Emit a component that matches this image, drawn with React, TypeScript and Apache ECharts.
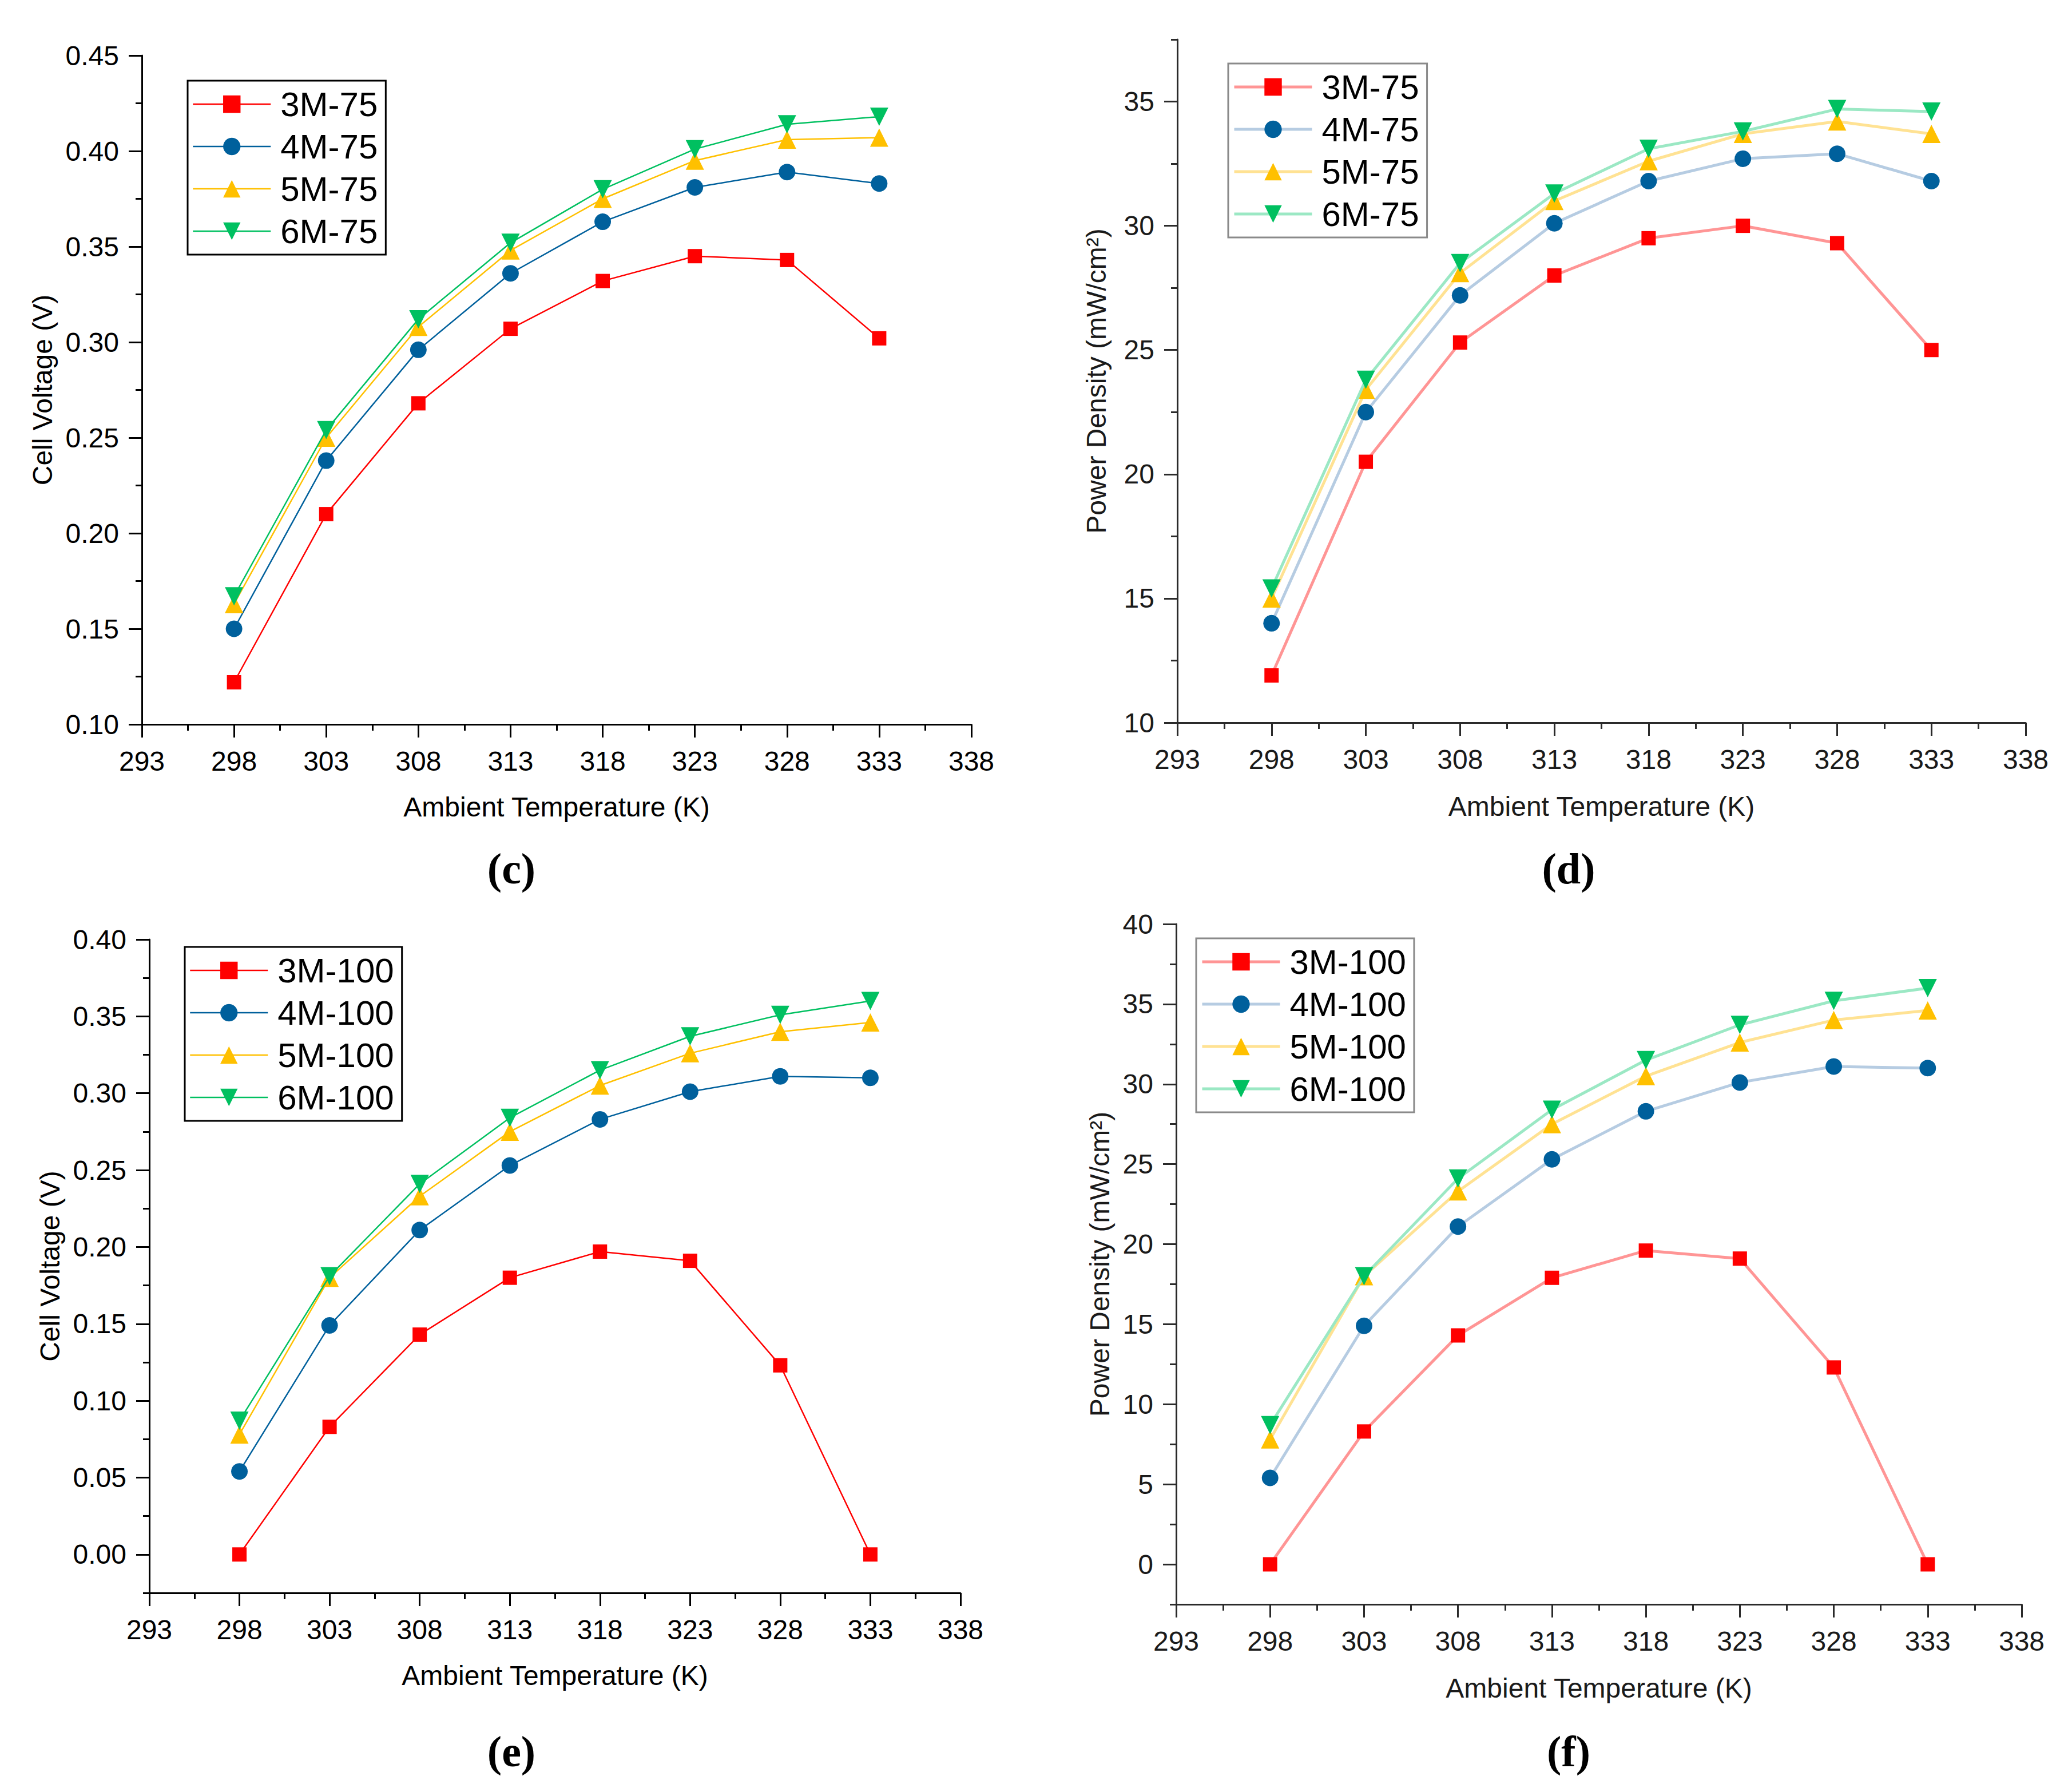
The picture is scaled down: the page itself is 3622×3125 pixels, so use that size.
import React, { useEffect, useRef } from "react";
import * as echarts from "echarts";

// ---------------- data ----------------
const TEMPS = [298, 303, 308, 313, 318, 323, 328, 333];
const X_TICKS = [293, 298, 303, 308, 313, 318, 323, 328, 333, 338];
const X_MINOR = [295.5, 300.5, 305.5, 310.5, 315.5, 320.5, 325.5, 330.5, 335.5];

const C_NAMES = ["3M-75", "4M-75", "5M-75", "6M-75"];
const C_3M = [0.122, 0.21, 0.268, 0.307, 0.332, 0.345, 0.343, 0.302];
const C_4M = [0.15, 0.238, 0.296, 0.336, 0.363, 0.381, 0.389, 0.383];
const C_5M = [0.163, 0.25, 0.308, 0.348, 0.375, 0.395, 0.406, 0.407];
const C_6M = [0.167, 0.254, 0.312, 0.352, 0.38, 0.401, 0.414, 0.418];
const C_Y_TICKS = [0.1, 0.15, 0.2, 0.25, 0.3, 0.35, 0.4, 0.45];
const C_Y_MINOR = [0.125, 0.175, 0.225, 0.275, 0.325, 0.375, 0.425];

const D_NAMES = ["3M-75", "4M-75", "5M-75", "6M-75"];
const D_3M = [11.9, 20.5, 25.3, 28.0, 29.5, 30.0, 29.3, 25.0];
const D_4M = [14.0, 22.5, 27.2, 30.1, 31.8, 32.7, 32.9, 31.8];
const D_5M = [15.0, 23.4, 28.1, 31.0, 32.6, 33.7, 34.2, 33.7];
const D_6M = [15.4, 23.8, 28.5, 31.3, 33.1, 33.8, 34.7, 34.6];
const D_Y_TICKS = [10, 15, 20, 25, 30, 35];
const D_Y_MINOR = [12.5, 17.5, 22.5, 27.5, 32.5, 37.5];

const E_NAMES = ["3M-100", "4M-100", "5M-100", "6M-100"];
const E_3M = [0.0, 0.083, 0.143, 0.18, 0.197, 0.191, 0.123, 0.0];
const E_4M = [0.054, 0.149, 0.211, 0.253, 0.283, 0.301, 0.311, 0.31];
const E_5M = [0.078, 0.18, 0.233, 0.275, 0.305, 0.326, 0.34, 0.346];
const E_6M = [0.087, 0.181, 0.241, 0.284, 0.315, 0.337, 0.351, 0.36];
const E_Y_TICKS = [0, 0.05, 0.1, 0.15, 0.2, 0.25, 0.3, 0.35, 0.4];
const E_Y_MINOR = [-0.025, 0.025, 0.075, 0.125, 0.175, 0.225, 0.275, 0.325, 0.375];

const F_NAMES = ["3M-100", "4M-100", "5M-100", "6M-100"];
const F_3M = [0.0, 8.3, 14.3, 17.9, 19.6, 19.1, 12.3, 0.0];
const F_4M = [5.4, 14.9, 21.1, 25.3, 28.3, 30.1, 31.1, 31.0];
const F_5M = [7.8, 18.0, 23.3, 27.5, 30.5, 32.6, 34.0, 34.6];
const F_6M = [8.7, 18.0, 24.1, 28.4, 31.5, 33.7, 35.2, 36.0];
const F_Y_TICKS = [0, 5, 10, 15, 20, 25, 30, 35, 40];
const F_Y_MINOR = [-2.5, 2.5, 7.5, 12.5, 17.5, 22.5, 27.5, 32.5, 37.5];

const X_NAME = "Ambient Temperature (K)";
const V_NAME = "Cell Voltage (V)";
const P_NAME = "Power Density (mW/cm²)";

// ---------------- styles ----------------
const MARKER_COLORS = ["#FF0000", "#00609C", "#FFC000", "#00C060"];
const SOFT_LINE_COLORS = ["#FF9595", "#B6CCE2", "#FFE293", "#9BE8C4"];
const SYMBOLS = ["rect", "circle", "triangle", "triangle"];
const SYMBOL_ROTATE = [0, 0, 0, 180];
const SYMBOL_SIZES = [25, 29, 32, 32];
const SANS = "Liberation Sans, Arial, sans-serif";
const SERIF = "Liberation Serif, DejaVu Serif, serif";

type Panel = {
  left: number; top: number; right: number; bottom: number;
  ymin: number; ymax: number; yTicks: number[]; yMinor: number[]; dec: number;
  yName: string; yNameGap: number; xNameGap: number;
  names: string[]; values: number[][]; soft: boolean;
  legend: { left: number; top: number };
  tag: string; tagX: number; tagY: number;
};

const PANELS: Panel[] = [
  {
    left: 248, top: 97, right: 1698, bottom: 1266,
    ymin: 0.1, ymax: 0.45, yTicks: C_Y_TICKS, yMinor: C_Y_MINOR, dec: 2,
    yName: V_NAME, yNameGap: 150, xNameGap: 120,
    names: C_NAMES, values: [C_3M, C_4M, C_5M, C_6M], soft: false,
    legend: { left: 328, top: 141 }, tag: "(c)", tagX: 894, tagY: 1518,
  },
  {
    left: 2058, top: 69, right: 3541, bottom: 1263,
    ymin: 10, ymax: 37.5, yTicks: D_Y_TICKS, yMinor: D_Y_MINOR, dec: 0,
    yName: P_NAME, yNameGap: 118, xNameGap: 122,
    names: D_NAMES, values: [D_3M, D_4M, D_5M, D_6M], soft: true,
    legend: { left: 2147, top: 111 }, tag: "(d)", tagX: 2742, tagY: 1518,
  },
  {
    left: 261, top: 1642, right: 1679, bottom: 2784,
    ymin: -0.025, ymax: 0.4, yTicks: E_Y_TICKS, yMinor: E_Y_MINOR, dec: 2,
    yName: V_NAME, yNameGap: 150, xNameGap: 120,
    names: E_NAMES, values: [E_3M, E_4M, E_5M, E_6M], soft: false,
    legend: { left: 323, top: 1655 }, tag: "(e)", tagX: 894, tagY: 3061,
  },
  {
    left: 2056, top: 1615, right: 3534, bottom: 2804,
    ymin: -2.5, ymax: 40, yTicks: F_Y_TICKS, yMinor: F_Y_MINOR, dec: 0,
    yName: P_NAME, yNameGap: 110, xNameGap: 122,
    names: F_NAMES, values: [F_3M, F_4M, F_5M, F_6M], soft: true,
    legend: { left: 2091, top: 1640 }, tag: "(f)", tagX: 2742, tagY: 3061,
  },
];

function buildOption() {
  const grid: any[] = [];
  const xAxis: any[] = [];
  const yAxis: any[] = [];
  const series: any[] = [];
  const legend: any[] = [];
  const graphic: any[] = [];

  PANELS.forEach((p, i) => {
    const rect = {
      left: p.left, top: p.top,
      width: p.right - p.left, height: p.bottom - p.top,
      containLabel: false,
    };
    grid.push({ ...rect }, { ...rect });
    const axisColor = p.soft ? "#2a2a2a" : "#000000";
    const labelColor = p.soft ? "#1a1a1a" : "#000000";
    const lineW = 3;

    // major x axis
    xAxis.push({
      type: "value", gridIndex: 2 * i, min: 293, max: 338,
      axisLine: { show: true, onZero: false, lineStyle: { color: axisColor, width: lineW } },
      axisTick: { show: true, customValues: X_TICKS, length: 23, lineStyle: { color: axisColor, width: lineW } },
      axisLabel: {
        show: true, customValues: X_TICKS, margin: 40, fontSize: 48, fontFamily: SANS, color: labelColor,
        formatter: (v: number) => String(Math.round(v)),
      },
      splitLine: { show: false },
      name: X_NAME, nameLocation: "middle", nameGap: p.xNameGap,
      nameTextStyle: { fontSize: 48, fontFamily: SANS, color: labelColor },
    });
    // minor x axis
    xAxis.push({
      type: "value", gridIndex: 2 * i + 1, min: 293, max: 338,
      axisLine: { show: false, onZero: false },
      axisTick: { show: true, customValues: X_MINOR, length: 11, lineStyle: { color: axisColor, width: lineW } },
      axisLabel: { show: false },
      splitLine: { show: false },
    });
    // major y axis
    yAxis.push({
      type: "value", gridIndex: 2 * i, min: p.ymin, max: p.ymax,
      axisLine: { show: true, onZero: false, lineStyle: { color: axisColor, width: lineW } },
      axisTick: { show: true, customValues: p.yTicks, length: 23, lineStyle: { color: axisColor, width: lineW } },
      axisLabel: {
        show: true, customValues: p.yTicks, margin: 40, fontSize: 48, fontFamily: SANS, color: labelColor,
        formatter: (v: number) => v.toFixed(p.dec),
      },
      splitLine: { show: false },
      name: p.yName, nameLocation: "middle", nameGap: p.yNameGap, nameRotate: 90,
      nameTextStyle: { fontSize: 48, fontFamily: SANS, color: labelColor },
    });
    // minor y axis
    yAxis.push({
      type: "value", gridIndex: 2 * i + 1, min: p.ymin, max: p.ymax,
      axisLine: { show: false, onZero: false },
      axisTick: { show: true, customValues: p.yMinor, length: 11, lineStyle: { color: axisColor, width: lineW } },
      axisLabel: { show: false },
      splitLine: { show: false },
    });

    const legendData: any[] = [];
    p.names.forEach((name, k) => {
      const lineColor = p.soft ? SOFT_LINE_COLORS[k] : MARKER_COLORS[k];
      const lineWidth = p.soft ? 5 : 2.5;
      series.push({
        type: "line", name,
        xAxisIndex: 2 * i, yAxisIndex: 2 * i,
        data: TEMPS.map((t, j) => [t, p.values[k][j]]),
        symbol: SYMBOLS[k], symbolSize: SYMBOL_SIZES[k], symbolRotate: SYMBOL_ROTATE[k],
        showSymbol: true,
        itemStyle: { color: MARKER_COLORS[k], borderWidth: 0 },
        lineStyle: { color: lineColor, width: lineWidth },
        z: 2 + k,
        emphasis: { disabled: true },
      });
      legendData.push({
        name,
        itemStyle: { color: MARKER_COLORS[k], borderWidth: 0 },
        lineStyle: { color: lineColor, width: lineWidth },
      });
    });

    legend.push({
      orient: "vertical",
      left: p.legend.left, top: p.legend.top,
      data: legendData,
      itemWidth: 136, itemHeight: 38, itemGap: 14,
      padding: [11, 14, 11, 8],
      borderColor: p.soft ? "#8a8a8a" : "#000000",
      borderWidth: 3,
      backgroundColor: "#ffffff",
      selectedMode: false,
      textStyle: { fontSize: 60, fontFamily: SANS, color: "#000000", padding: [0, 0, 0, 12] },
    });

    graphic.push({
      type: "text", x: p.tagX, y: p.tagY,
      style: {
        text: p.tag, fontSize: 76, fontFamily: SERIF, fontWeight: "bold",
        fill: "#000000", align: "center", verticalAlign: "middle",
      },
    });
  });

  return {
    animation: false,
    backgroundColor: "#ffffff",
    grid, xAxis, yAxis, series, legend, graphic,
  };
}

export default function App() {
  const ref = useRef<HTMLDivElement>(null);
  useEffect(() => {
    if (!ref.current) return;
    const chart = echarts.init(ref.current, undefined, { renderer: "svg" });
    chart.setOption(buildOption() as any);
    return () => chart.dispose();
  }, []);
  return (
    <div
      ref={ref}
      style={{ position: "absolute", left: 0, top: 0, width: 3622, height: 3125, background: "#fff" }}
    />
  );
}
